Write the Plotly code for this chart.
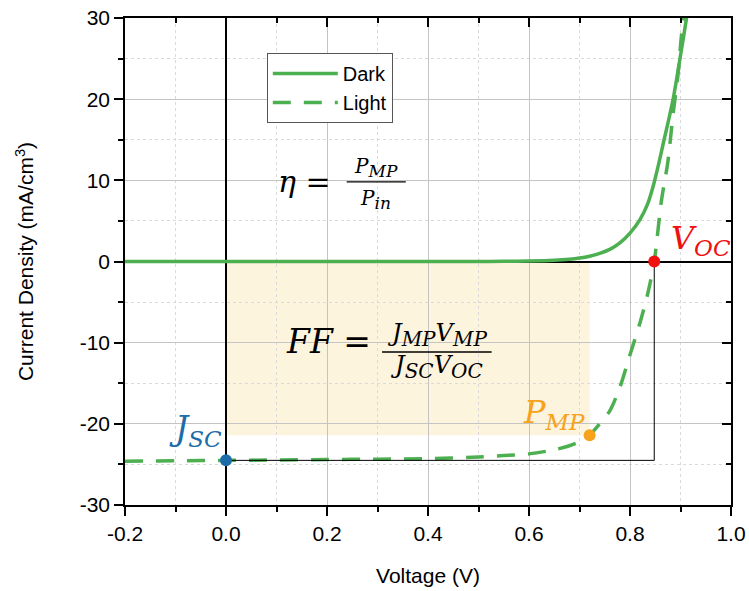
import plotly.graph_objects as go

# ---------------- data ----------------
dark_v = [-0.2, 0.0, 0.2, 0.4, 0.5, 0.55, 0.6, 0.65, 0.68, 0.7, 0.72, 0.74, 0.76,
          0.78, 0.8, 0.82, 0.835, 0.846, 0.856, 0.866, 0.876, 0.886, 0.899, 0.912, 0.916]
dark_j = [0.0, 0.0, 0.0, 0.0, 0.01, 0.02, 0.05, 0.14, 0.27, 0.42, 0.65, 1.0, 1.5,
          2.3, 3.5, 5.2, 7.1, 9.3, 11.8, 14.6, 17.3, 20.2, 25.0, 30.0, 31.5]

light_v = [-0.2, -0.1, 0.0, 0.1, 0.2, 0.3, 0.4, 0.5, 0.55, 0.6, 0.65, 0.68, 0.7,
           0.72, 0.74, 0.76, 0.78, 0.8, 0.82, 0.835, 0.848, 0.862, 0.875, 0.885,
           0.895, 0.902, 0.907]
light_j = [-24.6, -24.55, -24.5, -24.45, -24.4, -24.35, -24.3, -24.1, -23.9, -23.7,
           -23.2, -22.7, -22.2, -21.4, -20.0, -18.4, -15.5, -11.5, -7.5, -4.0, 0.0,
           7.4, 12.3, 18.0, 23.0, 27.9, 30.5]

jsc = -24.5
voc = 0.848
v_mp = 0.72
j_mp = -21.4

x_ticks = [-0.2, 0.0, 0.2, 0.4, 0.6, 0.8, 1.0]
y_ticks = [-30, -20, -10, 0, 10, 20, 30]

GREEN = "#4caf50"
BLUE = "#1b6ca8"
RED = "#f01010"
ORANGE = "#f7a21b"
SERIF = "DejaVu Serif"
SANS = "Liberation Sans, Arial, sans-serif"

fig = go.Figure()

fig.add_trace(go.Scatter(x=dark_v, y=dark_j, mode="lines", name="Dark",
                         line=dict(color=GREEN, width=3.5, shape="spline", smoothing=0.8)))
fig.add_trace(go.Scatter(x=light_v, y=light_j, mode="lines", name="Light",
                         line=dict(color=GREEN, width=3.5, dash="18px,13px",
                                   shape="spline", smoothing=0.8)))
# Jsc -> Voc rectangle lines
fig.add_trace(go.Scatter(x=[0, voc, voc], y=[jsc, jsc, 0], mode="lines",
                         line=dict(color="black", width=1), showlegend=False,
                         hoverinfo="skip"))
# key points
fig.add_trace(go.Scatter(x=[0], y=[jsc], mode="markers", showlegend=False,
                         marker=dict(color=BLUE, size=12)))
fig.add_trace(go.Scatter(x=[voc], y=[0], mode="markers", showlegend=False,
                         marker=dict(color=RED, size=12)))
fig.add_trace(go.Scatter(x=[v_mp], y=[j_mp], mode="markers", showlegend=False,
                         marker=dict(color=ORANGE, size=12)))
# dummy trace for the overlay (inside-tick) axes
fig.add_trace(go.Scatter(x=[None], y=[None], xaxis="x2", yaxis="y2",
                         showlegend=False, hoverinfo="skip"))

# shaded max-power rectangle
fig.add_shape(type="rect", xref="x", yref="y", x0=0, x1=v_mp, y0=j_mp, y1=0,
              fillcolor="#fdf4de", line=dict(width=0), layer="below")


def sub(t, size):
    return f"<sub><span style='font-size:{size}px'><i>{t}</i></span></sub>"


ann = []
# eta
ann.append(dict(x=0.099, y=9.8, xanchor="left", yanchor="middle",
                text="<i>η</i> =", font=dict(family=SERIF, size=30, color="black")))
ann.append(dict(x=0.297, y=11.6, xanchor="center", yanchor="middle",
                text="<i>P</i>" + sub("MP", 17), font=dict(family=SERIF, size=20, color="black")))
ann.append(dict(x=0.297, y=7.6, xanchor="center", yanchor="middle",
                text="<i>P</i>" + sub("in", 17), font=dict(family=SERIF, size=20, color="black")))
fig.add_shape(type="line", xref="x", yref="y", x0=0.239, x1=0.356, y0=9.8, y1=9.8,
              line=dict(color="black", width=1.3))
# FF
ann.append(dict(x=0.114, y=-9.8, xanchor="left", yanchor="middle",
                text="<i>FF</i> =", font=dict(family=SERIF, size=33, color="black")))
ann.append(dict(x=0.417, y=-9.0, xanchor="center", yanchor="middle",
                text="<i>J</i>" + sub("MP", 20) + "<i>V</i>" + sub("MP", 20),
                font=dict(family=SERIF, size=24, color="black")))
ann.append(dict(x=0.417, y=-13.0, xanchor="center", yanchor="middle",
                text="<i>J</i>" + sub("SC", 20) + "<i>V</i>" + sub("OC", 20),
                font=dict(family=SERIF, size=24, color="black")))
fig.add_shape(type="line", xref="x", yref="y", x0=0.309, x1=0.526, y0=-11.15, y1=-11.15,
              line=dict(color="black", width=1.3))
# point labels
ann.append(dict(x=-0.117, y=-20.8, xanchor="left", yanchor="middle",
                text="<i>J</i>" + sub("SC", 23), font=dict(family=SERIF, size=33, color=BLUE)))
ann.append(dict(x=0.878, y=2.6, xanchor="left", yanchor="middle",
                text="<i>V</i>" + sub("OC", 23), font=dict(family=SERIF, size=32, color=RED)))
ann.append(dict(x=0.584, y=-18.8, xanchor="left", yanchor="middle",
                text="<i>P</i>" + sub("MP", 23), font=dict(family=SERIF, size=32, color=ORANGE)))
for a in ann:
    a.update(xref="x", yref="y", showarrow=False)

axis_common = dict(showline=True, linecolor="black", linewidth=1.5,
                   ticks="outside", ticklen=9, tickwidth=1.5, tickcolor="black",
                   showgrid=True, gridcolor="#c4c4c4", gridwidth=1,
                   zeroline=True, zerolinecolor="black", zerolinewidth=1.5,
                   tickfont=dict(family=SANS, size=21, color="black"),
                   mirror=True, automargin=False)

fig.update_layout(
    width=749, height=591,
    margin=dict(l=125, r=18, t=18, b=86, autoexpand=False),
    paper_bgcolor="white", plot_bgcolor="white",
    annotations=ann,
    showlegend=True,
    legend=dict(x=0.234, y=0.928, xanchor="left", yanchor="top",
                bgcolor="white", bordercolor="#555", borderwidth=1,
                font=dict(family=SANS, size=20, color="black"),
                itemwidth=65, tracegroupgap=0),
    xaxis=dict(range=[-0.2, 1.0], tickvals=x_ticks,
               ticktext=[f"{v:.1f}" for v in x_ticks],
               minor=dict(dtick=0.1, tick0=0, ticks="outside", ticklen=5,
                          tickwidth=1.5, tickcolor="black", showgrid=True,
                          gridcolor="#dadada", griddash="dot", gridwidth=1),
               title=dict(text="Voltage (V)", standoff=24,
                          font=dict(family=SANS, size=21, color="black")),
               **axis_common),
    yaxis=dict(range=[-30, 30], tickvals=y_ticks,
               ticktext=[str(v) for v in y_ticks],
               minor=dict(dtick=5, tick0=0, ticks="outside", ticklen=5,
                          tickwidth=1.5, tickcolor="black", showgrid=True,
                          gridcolor="#dadada", griddash="dot", gridwidth=1),
               title=dict(text="Current Density (mA/cm<sup>3</sup>)", standoff=40,
                          font=dict(family=SANS, size=21, color="black")),
               **axis_common),
    xaxis2=dict(range=[-0.2, 1.0], overlaying="x", side="top", anchor="y2",
                tickvals=x_ticks, showticklabels=False, ticks="inside",
                ticklen=9, tickwidth=1.5, tickcolor="black", automargin=False,
                minor=dict(dtick=0.1, tick0=0, ticks="inside", ticklen=5,
                           tickwidth=1.5, tickcolor="black", showgrid=False),
                showgrid=False, zeroline=False, showline=False),
    yaxis2=dict(range=[-30, 30], overlaying="y", side="right", anchor="x2",
                tickvals=y_ticks, showticklabels=False, ticks="inside",
                ticklen=9, tickwidth=1.5, tickcolor="black", automargin=False,
                minor=dict(dtick=5, tick0=0, ticks="inside", ticklen=5,
                           tickwidth=1.5, tickcolor="black", showgrid=False),
                showgrid=False, zeroline=False, showline=False),
)

fig.write_html("out.html")
